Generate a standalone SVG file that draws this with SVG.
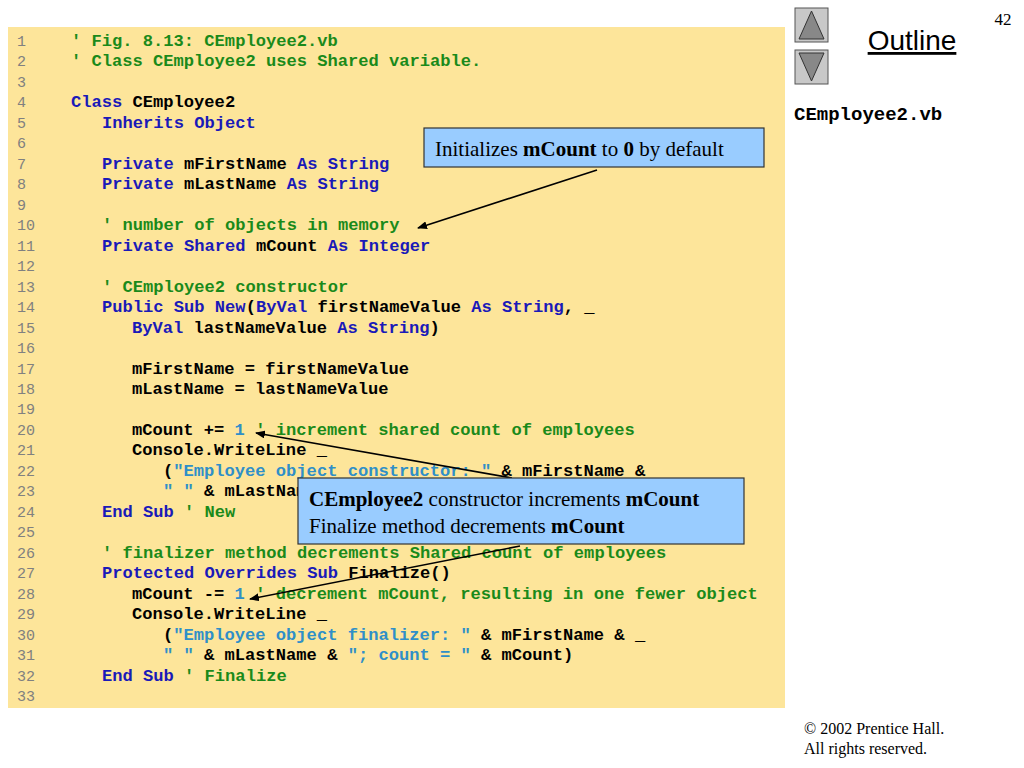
<svg xmlns="http://www.w3.org/2000/svg" width="1024" height="768" viewBox="0 0 1024 768">
<style>
.code{font-family:"Liberation Mono",monospace;font-weight:bold;font-size:17.1px;white-space:pre;fill:#000}
.ln{font-family:"Liberation Mono",monospace;font-size:15px;fill:#808080}
.k{fill:#1a1ab8}.c{fill:#1a8a1a}.s{fill:#2f8fc8}
.call{font-family:"Liberation Serif",serif;font-size:21px;fill:#000}
.box{fill:#99ccff;stroke:#333;stroke-width:1.2}
</style>
<defs><marker id="ah" markerWidth="10" markerHeight="8" refX="9" refY="4" orient="auto" markerUnits="userSpaceOnUse"><path d="M0,0L10,4L0,8z" fill="#000"/></marker></defs>
<rect width="1024" height="768" fill="#fff"/>
<rect x="8" y="27" width="777" height="681" fill="#fde59a"/>
<g id="linenums" class="ln">
<text x="17" y="46">1</text><text x="17" y="66">2</text><text x="17" y="87">3</text><text x="17" y="107">4</text><text x="17" y="128">5</text><text x="17" y="148">6</text><text x="17" y="169">7</text><text x="17" y="189">8</text><text x="17" y="210">9</text><text x="17" y="230">10</text><text x="17" y="251">11</text><text x="17" y="271">12</text><text x="17" y="292">13</text><text x="17" y="312">14</text><text x="17" y="333">15</text><text x="17" y="353">16</text><text x="17" y="374">17</text><text x="17" y="394">18</text><text x="17" y="414">19</text><text x="17" y="435">20</text><text x="17" y="455">21</text><text x="17" y="476">22</text><text x="17" y="496">23</text><text x="17" y="517">24</text><text x="17" y="537">25</text><text x="17" y="558">26</text><text x="17" y="578">27</text><text x="17" y="599">28</text><text x="17" y="619">29</text><text x="17" y="640">30</text><text x="17" y="660">31</text><text x="17" y="681">32</text><text x="17" y="701">33</text>
</g>
<g id="code" class="code" xml:space="preserve">
<text x="71" y="46" class="c">' Fig. 8.13: CEmployee2.vb</text>
<text x="71" y="66" class="c">' Class CEmployee2 uses Shared variable.</text>
<text x="71" y="107"><tspan class="k">Class</tspan> CEmployee2</text>
<text x="102" y="128"><tspan class="k">Inherits Object</tspan></text>
<text x="102" y="169"><tspan class="k">Private</tspan> mFirstName <tspan class="k">As String</tspan></text>
<text x="102" y="189"><tspan class="k">Private</tspan> mLastName <tspan class="k">As String</tspan></text>
<text x="102" y="230" class="c">' number of objects in memory</text>
<text x="102" y="251"><tspan class="k">Private Shared</tspan> mCount <tspan class="k">As Integer</tspan></text>
<text x="102" y="292" class="c">' CEmployee2 constructor</text>
<text x="102" y="312"><tspan class="k">Public Sub New</tspan>(<tspan class="k">ByVal</tspan> firstNameValue <tspan class="k">As String</tspan>, _</text>
<text x="132" y="333"><tspan class="k">ByVal</tspan> lastNameValue <tspan class="k">As String</tspan>)</text>
<text x="132" y="374">mFirstName = firstNameValue</text>
<text x="132" y="394">mLastName = lastNameValue</text>
<text x="132" y="435">mCount += <tspan class="s">1</tspan> <tspan class="c">' increment shared count of employees</tspan></text>
<text x="132" y="455">Console.WriteLine _</text>
<text x="163" y="476">(<tspan class="s">"Employee object constructor: "</tspan> &amp; mFirstName &amp;</text>
<text x="163" y="496"><tspan class="s">" "</tspan> &amp; mLastName &amp; <tspan class="s">"; count = "</tspan> &amp; mCount)</text>
<text x="102" y="517"><tspan class="k">End Sub</tspan> <tspan class="c">' New</tspan></text>
<text x="102" y="558" class="c">' finalizer method decrements Shared count of employees</text>
<text x="102" y="578"><tspan class="k">Protected Overrides Sub</tspan> Finalize()</text>
<text x="132" y="599">mCount -= <tspan class="s">1</tspan> <tspan class="c">' decrement mCount, resulting in one fewer object</tspan></text>
<text x="132" y="619">Console.WriteLine _</text>
<text x="163" y="640">(<tspan class="s">"Employee object finalizer: "</tspan> &amp; mFirstName &amp; _</text>
<text x="163" y="660"><tspan class="s">" "</tspan> &amp; mLastName &amp; <tspan class="s">"; count = "</tspan> &amp; mCount)</text>
<text x="102" y="681"><tspan class="k">End Sub</tspan> <tspan class="c">' Finalize</tspan></text>
</g>
<g id="connectors" stroke="#000" stroke-width="1.6" fill="none" marker-end="url(#ah)">
<line x1="597" y1="170" x2="418" y2="228"/>
<line x1="512" y1="478" x2="256" y2="433"/>
<line x1="520" y1="546" x2="250" y2="599"/>
</g>
<g id="callout1">
<rect class="box" x="424" y="128" width="340" height="39"/>
<text class="call" x="435" y="156">Initializes <tspan font-weight="bold">mCount</tspan> to <tspan font-weight="bold">0</tspan> by default</text>
</g>
<g id="callout2">
<rect class="box" x="298" y="478" width="446" height="66"/>
<text class="call" x="309" y="506"><tspan font-weight="bold">CEmployee2</tspan> constructor increments <tspan font-weight="bold">mCount</tspan></text>
<text class="call" x="309" y="533">Finalize method decrements <tspan font-weight="bold">mCount</tspan></text>
</g>
<g id="nav">
<rect x="795" y="8" width="33" height="34" fill="#c8c8c8" stroke="#555"/>
<path d="M799,39 L811.5,11 L824,39 Z" fill="#888" stroke="#333"/>
<rect x="795" y="50" width="33" height="34" fill="#c8c8c8" stroke="#555"/>
<path d="M799,53 L811.5,81 L824,53 Z" fill="#888" stroke="#333"/>
</g>
<text x="1003" y="25" font-family="Liberation Serif,serif" font-size="17" text-anchor="middle">42</text>
<text x="912" y="50" font-family="Liberation Sans,sans-serif" font-size="28" text-anchor="middle" text-decoration="underline">Outline</text>
<text x="794" y="120" font-family="Liberation Mono,monospace" font-weight="bold" font-size="19">CEmployee2.vb</text>
<text x="804" y="734" font-family="Liberation Serif,serif" font-size="16">© 2002 Prentice Hall.</text>
<text x="804" y="754" font-family="Liberation Serif,serif" font-size="16">All rights reserved.</text>
</svg>
